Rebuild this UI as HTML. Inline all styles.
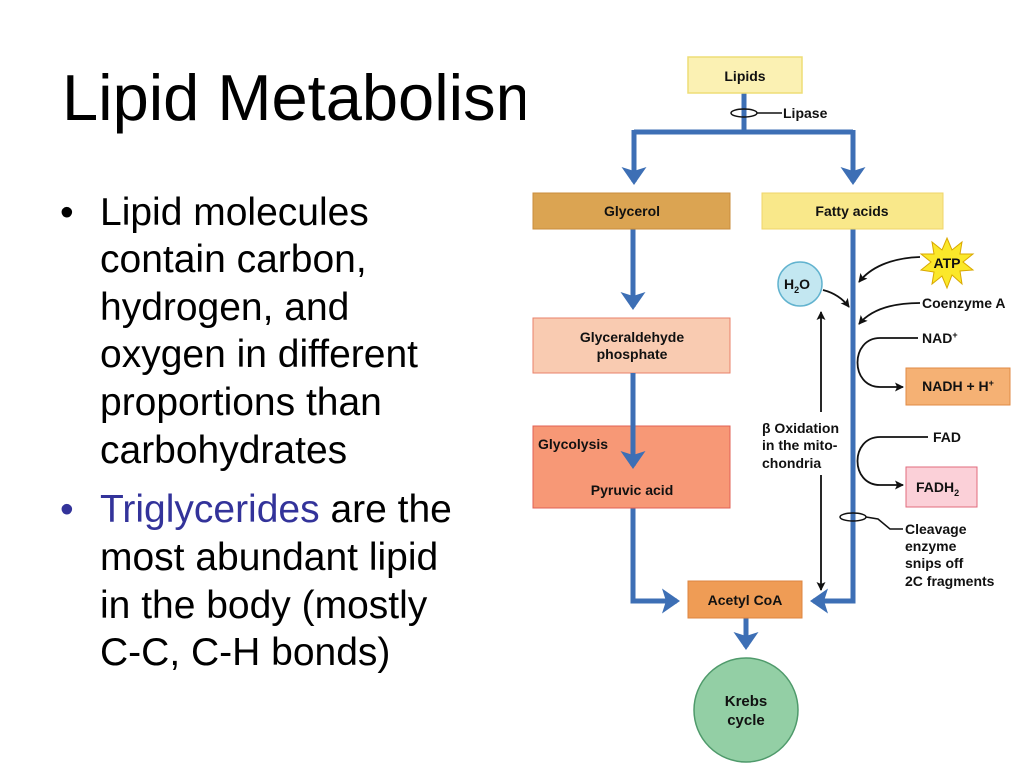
<!DOCTYPE html>
<html><head><meta charset="utf-8"><style>
html,body{margin:0;padding:0;background:#fff;}
body{width:1024px;height:768px;position:relative;overflow:hidden;font-family:"Liberation Sans",Arial,sans-serif;}
.title{position:absolute;left:62px;top:60px;width:463px;overflow:hidden;white-space:nowrap;font-size:65px;line-height:76px;color:#000;}
.bl{position:absolute;left:100px;font-size:39px;line-height:39px;color:#000;white-space:nowrap;}
.dot{position:absolute;left:60px;font-size:39px;line-height:39px;}
svg{position:absolute;left:0;top:0;}
svg text{font-family:"Liberation Sans",Arial,sans-serif;font-weight:bold;font-size:14px;fill:#111;}
</style></head><body>
<div class="title">Lipid Metabolism</div>
<div class="dot" style="top:193px">•</div>
<div class="bl" style="top:193px">Lipid molecules</div>
<div class="bl" style="top:240px">contain carbon,</div>
<div class="bl" style="top:288px">hydrogen, and</div>
<div class="bl" style="top:335px">oxygen in different</div>
<div class="bl" style="top:383px">proportions than</div>
<div class="bl" style="top:431px">carbohydrates</div>
<div class="dot" style="top:490px;color:#33339a">•</div>
<div class="bl" style="top:490px"><span style="color:#33339a">Triglycerides</span> are the</div>
<div class="bl" style="top:538px">most abundant lipid</div>
<div class="bl" style="top:586px">in the body (mostly</div>
<div class="bl" style="top:633px">C-C, C-H bonds)</div>

<svg width="1024" height="768" viewBox="0 0 1024 768">
<defs>
<marker id="bh" markerWidth="5" markerHeight="5" refX="3" refY="2.5" orient="auto" markerUnits="strokeWidth"><path d="M0,0 L3.6,2.5 L0,5 L0.8,2.5 z" fill="#3d6fb5"/></marker>
<marker id="kh" markerWidth="9" markerHeight="9" refX="8" refY="4.5" orient="auto" markerUnits="userSpaceOnUse"><path d="M0,0 L9,4.5 L0,9 L2,4.5 z" fill="#111"/></marker>
</defs>
<g stroke="#3d6fb5" stroke-width="5" fill="none">
<line x1="744" y1="93" x2="744" y2="132"/>
<path d="M634,132 L853,132"/>
<path d="M634,130 L634,182" marker-end="url(#bh)"/>
<path d="M853,130 L853,182" marker-end="url(#bh)"/>
<path d="M633,229 L633,307" marker-end="url(#bh)"/>
<path d="M633,508 L633,601 L677,601" marker-end="url(#bh)"/>
<path d="M853,229 L853,601 L813,601" marker-end="url(#bh)"/>
<path d="M746,618 L746,647" marker-end="url(#bh)"/>
</g>
<rect x="688" y="57" width="114" height="36" fill="#fbf1b3" stroke="#eedd77" stroke-width="1.5"/>
<text x="745" y="81" text-anchor="middle">Lipids</text>
<ellipse cx="744" cy="113" rx="13" ry="4" fill="none" stroke="#111" stroke-width="1.5"/>
<line x1="757" y1="113" x2="782" y2="113" stroke="#111" stroke-width="1.5"/>
<text x="783" y="118">Lipase</text>
<rect x="533" y="193" width="197" height="36" fill="#dba452" stroke="#c98c3c"/>
<text x="632" y="216" text-anchor="middle">Glycerol</text>
<rect x="762" y="193" width="181" height="36" fill="#f9e88a" stroke="#efd56a"/>
<text x="852" y="216" text-anchor="middle">Fatty acids</text>
<rect x="533" y="318" width="197" height="55" fill="#f9cbb1" stroke="#e9806a"/>
<text x="632" y="342" text-anchor="middle">Glyceraldehyde</text>
<text x="632" y="359" text-anchor="middle">phosphate</text>
<rect x="533" y="426" width="197" height="82" fill="#f79876" stroke="#e06054"/>
<g stroke="#3d6fb5" stroke-width="5" fill="none"><path d="M633,373 L633,466" marker-end="url(#bh)"/></g>
<text x="538" y="449">Glycolysis</text>
<text x="632" y="495" text-anchor="middle">Pyruvic acid</text>
<rect x="688" y="581" width="114" height="37" fill="#ef9c55" stroke="#de8540"/>
<text x="745" y="605" text-anchor="middle">Acetyl CoA</text>
<circle cx="746" cy="710" r="52" fill="#93cfa5" stroke="#4f9a6b" stroke-width="1.5"/>
<text x="746" y="706" text-anchor="middle" style="font-size:15px">Krebs</text>
<text x="746" y="725" text-anchor="middle" style="font-size:15px">cycle</text>
<circle cx="800" cy="284" r="22" fill="#c3e7f1" stroke="#62b3cf" stroke-width="1.5"/>
<text x="784" y="289">H<tspan font-size="9" dy="4">2</tspan><tspan dy="-4">O</tspan></text>
<polygon fill="#fbe82a" stroke="#d9a800" stroke-width="1" points="947,238 952,250 962,242 960,254 973,254 963,262 973,270 960,271 962,284 952,275 947,288 942,276 932,284 934,272 921,270 931,262 921,254 934,254 932,242 942,250"/>
<text x="947" y="268" text-anchor="middle">ATP</text>
<g stroke="#111" stroke-width="1.8" fill="none">
<path d="M920,257 C890,258 870,268 859,282" marker-end="url(#kh)"/>
<path d="M823,290 C835,293 843,299 849,307" marker-end="url(#kh)"/>
<path d="M920,303 C890,303 870,311 859,324" marker-end="url(#kh)"/>
<path d="M918,338 L880,338 C850,338 850,387 880,387 L903,387" marker-end="url(#kh)"/>
<path d="M928,437 L880,437 C850,437 850,485 880,485 L903,485" marker-end="url(#kh)"/>
<path d="M821,412 L821,312" marker-end="url(#kh)"/>
<path d="M821,475 L821,590" marker-end="url(#kh)"/>
<ellipse cx="853" cy="517" rx="13" ry="4" stroke-width="1.5"/>
<path d="M866,517 L878,519 L890,529 L903,529" stroke-width="1.5"/>
</g>
<text x="922" y="308">Coenzyme A</text>
<text x="922" y="343">NAD<tspan font-size="9" dy="-5">+</tspan></text>
<rect x="906" y="368" width="104" height="37" fill="#f5b174" stroke="#e08a44"/>
<text x="958" y="391" text-anchor="middle">NADH + H<tspan font-size="9" dy="-5">+</tspan></text>
<text x="933" y="442">FAD</text>
<rect x="906" y="467" width="71" height="40" fill="#fbd0d8" stroke="#e06b7d"/>
<text x="916" y="492">FADH<tspan font-size="9" dy="4">2</tspan></text>
<text x="762" y="433">β Oxidation</text>
<text x="762" y="450">in the mito-</text>
<text x="762" y="468">chondria</text>
<text x="905" y="534">Cleavage</text>
<text x="905" y="551">enzyme</text>
<text x="905" y="568">snips off</text>
<text x="905" y="586">2C fragments</text>
</svg>
</body></html>
